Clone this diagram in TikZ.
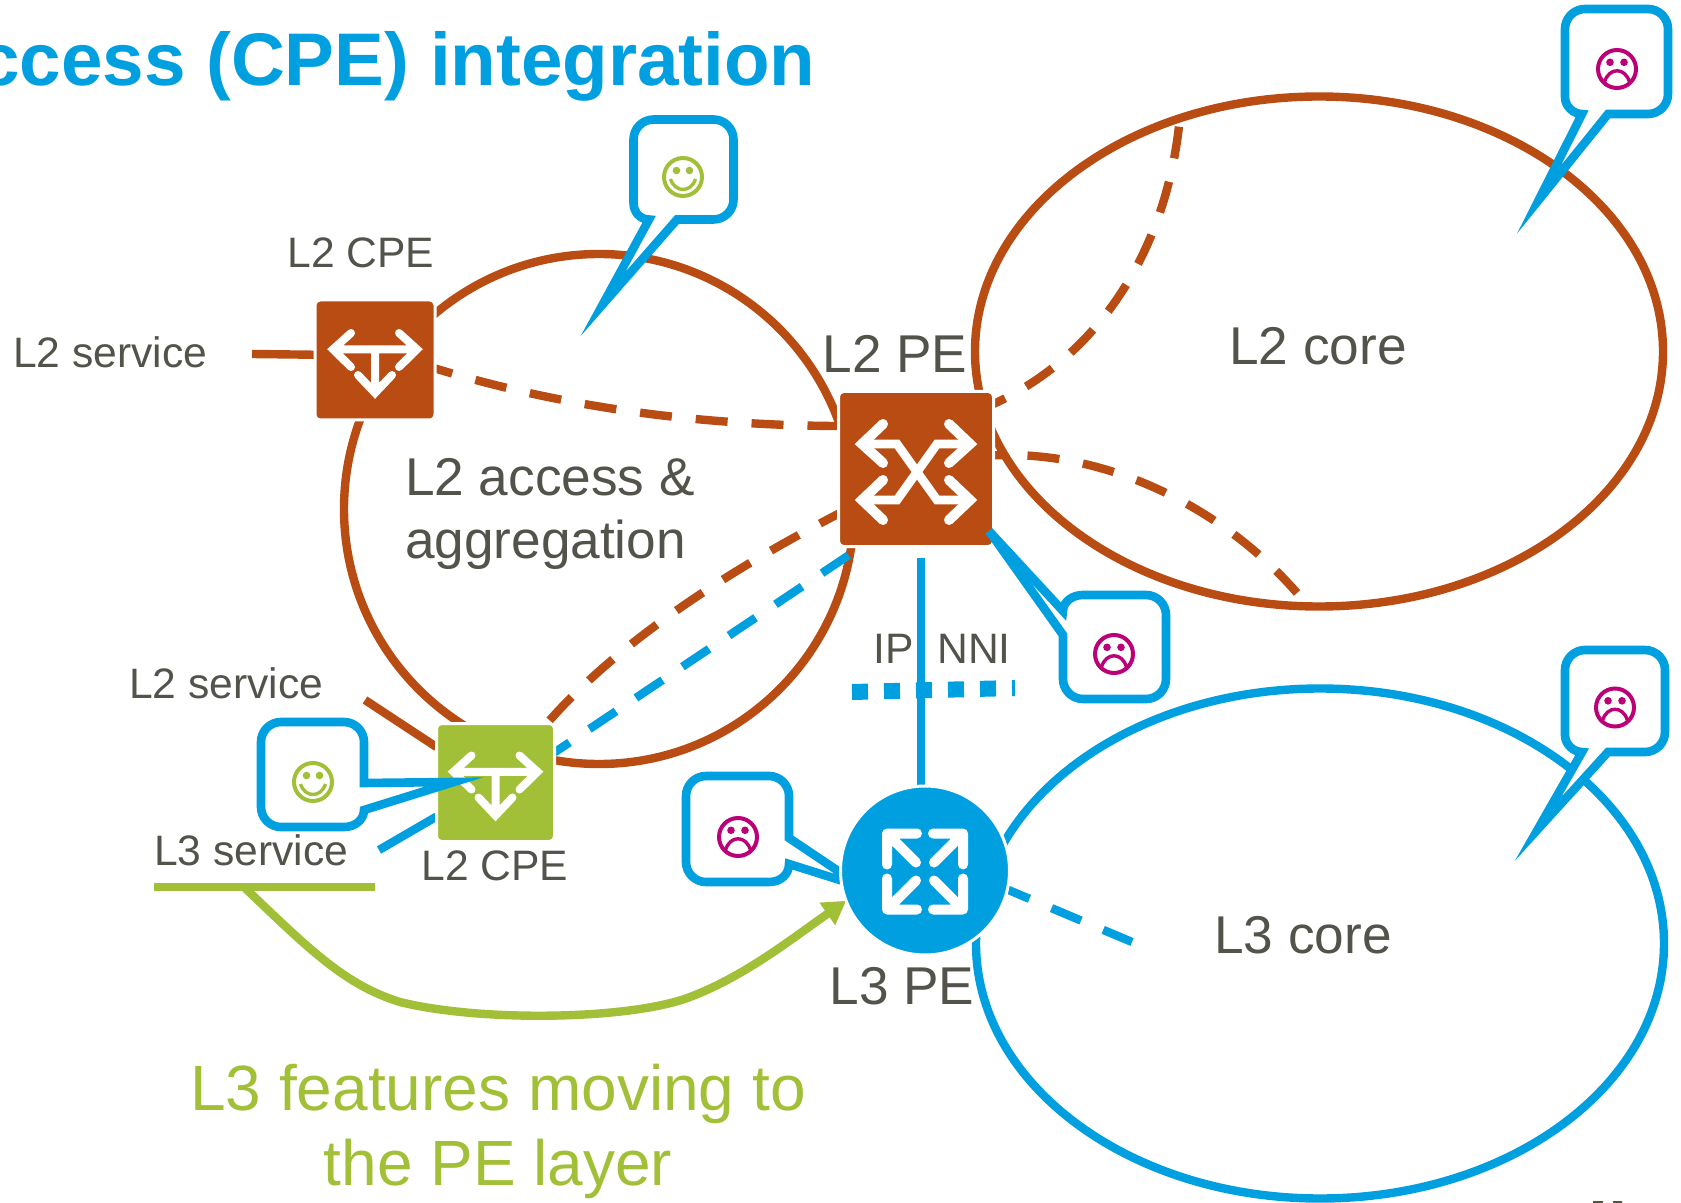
\documentclass[tikz,border=0pt]{standalone}
\usepackage{fontspec}
\setmainfont{Liberation Sans}
\usetikzlibrary{shapes.geometric,arrows.meta}
\definecolor{cblue}{HTML}{009FE0}
\definecolor{cbrown}{HTML}{B84C12}
\definecolor{cgreen}{HTML}{A2C037}
\definecolor{cgray}{HTML}{53534B}
\definecolor{cmag}{HTML}{BC0077}
\pgfdeclarelayer{bg}
\pgfsetlayers{bg,main}
\tikzset{
  lbl/.style={inner sep=0pt,outer sep=0pt,text=cgray},
  small/.style={lbl,font=\fontsize{21.3pt}{25pt}\selectfont},
  big/.style={lbl,font=\fontsize{26.6pt}{31.5pt}\selectfont},
  region/.style={ellipse,draw,line width=4.2pt,inner sep=0pt,outer sep=0pt,fill=none},
  brownreg/.style={region,draw=cbrown},
  bluereg/.style={region,draw=cblue},
  devbox/.style={rectangle,rounded corners=2.5pt,draw=white,line width=1.5pt,inner sep=0pt,outer sep=0pt},
  devround/.style={circle,draw=white,line width=1.5pt,fill=cblue,inner sep=0pt,outer sep=0pt},
  brownln/.style={draw=cbrown,line width=4.2pt},
  blueln/.style={draw=cblue,line width=4.2pt},
  greenln/.style={draw=cgreen,line width=4.2pt},
  dashln/.style={dash pattern=on 16pt off 12pt},
  callout/.style={draw=cblue,fill=white,line width=4.3pt},
  cpeicon/.pic={
    \draw[white,line width=4pt,line cap=round,miter limit=10]
      (-41,-10.7) -- (41,-10.7)
      (-24,-27) -- (-42,-10.7) -- (-24,7)
      (24,-27) -- (42,-10.7) -- (24,7)
      (0,-8) -- (0,31)
      (-17,15) -- (0,33) -- (17,15);
  },
  peicon/.pic={
    \draw[white,line width=5pt,line cap=round]
      (-33,-48) -- (-54,-28) -- (-33,-9)
      (33,-48) -- (54,-28) -- (33,-9)
      (-33,8) -- (-54,28) -- (-33,48)
      (33,8) -- (54,28) -- (33,48);
    \draw[white,line width=4.4pt]
      (-54,-28) -- (-19,-28) -- (21,28) -- (54,28)
      (-54,28) -- (-19,28) -- (21,-28) -- (54,-28);
  },
  l3icon/.pic={
    \draw[white,line width=5pt,line cap=round,line join=round]
      (-8,-38) -- (-38,-38) -- (-38,-7)
      (-38,-38) -- (-9,-9)
      (8,-38) -- (38,-38) -- (38,-7)
      (38,-38) -- (9,-9)
      (-8,38) -- (-38,38) -- (-38,7)
      (-38,38) -- (-9,9)
      (8,38) -- (38,38) -- (38,7)
      (38,38) -- (9,9);
  },
  happyface/.pic={
    \draw[cgreen,line width=2pt] (0,0) circle[radius=19];
    \fill[cgreen] (-6.5,-6.5) circle[radius=3.8] (6.5,-6.5) circle[radius=3.8];
    \draw[cgreen,line width=1.7pt] (-12.5,2) .. controls (-8,16) and (8,16) .. (12.5,2);
  },
  sadface/.pic={
    \draw[cmag,line width=2pt] (0,0) circle[radius=19];
    \fill[cmag] (-7,-6.7) circle[radius=3.8] (7,-6.7) circle[radius=3.8];
    \draw[cmag,line width=1.7pt] (-12.5,13) .. controls (-8,-2) and (8,-2) .. (12.5,13);
  }
}
\begin{document}
\begin{tikzpicture}[x=0.5pt,y=-0.5pt]
\useasboundingbox (0,0) rectangle (1681,1203);

% device nodes
\node[devbox,fill=cbrown,minimum size=60pt] (cpetop) at (375,360) {};
\node[devbox,fill=cgreen,minimum size=59pt] (cpelow) at (495.5,782.5) {};
\node[devbox,fill=cbrown,minimum size=77.5pt] (l2pe) at (916,469) {};
\node[devround,minimum size=84.5pt] (l3pe) at (925,870.5) {};
\pic at (375,360) {cpeicon};
\pic at (495.5,782.5) {cpeicon};
\pic at (916,472) {peicon};
\pic at (925,871.5) {l3icon};

% free ends
\coordinate (svcA) at (252,354);
\coordinate (svcB) at (365,700);
\coordinate (svcC) at (379,850);
\coordinate (lineL) at (154,887);
\coordinate (lineR) at (375,887);
\coordinate (arrowS) at (245,888);
\coordinate (dashB) at (1179,126);
\coordinate (dashC) at (1297,593);
\coordinate (dashL3) at (1132,942);
\coordinate (nniL) at (852,692);
\coordinate (nniR) at (1015,688);
\coordinate (nniT) at (921,558);
\coordinate (nniB) at (921,800);

\begin{pgfonlayer}{bg}
  \node[brownreg,minimum width=255pt,minimum height=255pt] (access) at (599,509) {};
  \node[brownreg,minimum width=344pt,minimum height=255pt] (l2core) at (1319,351.5) {};
  \node[bluereg,minimum width=344pt,minimum height=255pt] (l3core) at (1320,943.5) {};

  \draw[brownln] (svcA) -- (cpetop.175);
  \draw[brownln] (svcB) -- (cpelow.149);
  \draw[blueln] (svcC) -- (cpelow.210);
  \draw[greenln] (lineL) -- (lineR);
  \draw[greenln,-{Triangle[length=11.5pt,width=13pt]}] (arrowS)
     .. controls (310,950) and (345,985) .. (400,1002)
     .. controls (480,1022) and (630,1020) .. (690,997)
     .. controls (745,976) and (790,940) .. (l3pe.201.6);
  \draw[brownln,dashln,dash phase=7pt] (cpetop.-8) .. controls (530,397) and (660,425) .. (l2pe.151);
  \draw[brownln,dashln,dash phase=9.5pt] (l2pe.40) .. controls (1100,355) and (1165,250) .. (dashB);
  \draw[brownln,dashln,dash phase=11pt] (l2pe.10) .. controls (1110,450) and (1225,510) .. (dashC);
  \draw[brownln,dashln,dash phase=5.5pt] (l2pe.210) .. controls (730,570) and (620,640) .. (cpelow.49);
  \draw[blueln,dashln,dash phase=7pt] (cpelow.27) -- (l2pe.235);
  \draw[blueln,dashln,dash phase=4pt] (l3pe.-13) -- (dashL3);
  \draw[draw=cblue,line width=8pt,dash pattern=on 8pt off 8pt] (nniL) -- (nniR);
  \draw[blueln] (nniT) -- (nniB);

  % callout at L3 PE lies under the round node
  \path[callout] (789,864) .. controls (789,874) and (781,882) .. (769,882) -- (706,882)
     .. controls (695,882) and (686,873) .. (686,862) -- (686,796)
     .. controls (686,785) and (695,776) .. (706,776) -- (769,776)
     .. controls (780,776) and (789,785) .. (789,796) -- (789,838) -- (862,887) -- cycle;
\end{pgfonlayer}

% callouts
\path[callout] (677,219.5) -- (713.5,219.5) .. controls (724.5,219.5) and (733.5,210.5) .. (733.5,199.5)
   -- (733.5,139.5) .. controls (733.5,128.5) and (724.5,119.5) .. (713.5,119.5)
   -- (653.5,119.5) .. controls (642.5,119.5) and (633.5,128.5) .. (633.5,139.5)
   -- (633.5,203) .. controls (633.5,212) and (640,219.5) .. (649,219.5) -- (603,304) -- cycle;
\path[callout] (1608,114) -- (1648,114) .. controls (1659,114) and (1668,105) .. (1668,94)
   -- (1668,29) .. controls (1668,18) and (1659,9) .. (1648,9)
   -- (1585,9) .. controls (1574,9) and (1565,18) .. (1565,29)
   -- (1565,97) .. controls (1565,106) and (1573,114) .. (1582,114) -- (1539,199.5) -- cycle;
\path[callout] (1608,752) -- (1645,752) .. controls (1656,752) and (1665,743) .. (1665,732)
   -- (1665,670) .. controls (1665,659) and (1656,650) .. (1645,650)
   -- (1585,650) .. controls (1574,650) and (1565,659) .. (1565,670)
   -- (1565,735) .. controls (1565,744) and (1573,752) .. (1582,752) -- (1538,829) -- cycle;
\path[callout] (1063,635) -- (1063,679) .. controls (1063,690) and (1072,699) .. (1083,699)
   -- (1146,699) .. controls (1157,699) and (1166,690) .. (1166,679)
   -- (1166,615) .. controls (1166,604) and (1157,595) .. (1146,595)
   -- (1083,595) .. controls (1072,595) and (1063,602) .. (1063,611) -- (989,531) -- cycle;
\path[callout] (364,810) .. controls (364,819) and (356,827) .. (344,827) -- (281,827)
   .. controls (270,827) and (261,818) .. (261,807) -- (261,742)
   .. controls (261,731) and (270,722) .. (281,722) -- (344,722)
   .. controls (355,722) and (364,731) .. (364,742) -- (364,783) -- (454,782) -- cycle;

% faces
\pic at (683,177) {happyface};
\pic at (313,782) {happyface};
\pic at (1114,654) {sadface};
\pic at (738,837) {sadface};
\pic at (1617,69) {sadface};
\pic at (1615,707.5) {sadface};

% texts
\node[inner sep=0pt,anchor=base east,text=cblue,font=\fontsize{37.3pt}{40pt}\selectfont\bfseries] (title) at (816,86) {ccess (CPE) integration};
\node[small,anchor=base] (t1) at (361,268) {L2 CPE};
\node[small,anchor=base] (t2) at (495,880) {L2 CPE};
\node[small,anchor=base west] (t3) at (13,368) {L2 service};
\node[small,anchor=base west] (t4) at (129,698) {L2 service};
\node[small,anchor=base west] (t5) at (154,865) {L3 service};
\node[big,anchor=base west] (t6) at (405,495) {L2 access \&};
\node[big,anchor=base west] (t7) at (405,558) {aggregation};
\node[big,anchor=base] (t8) at (895,373) {L2 PE};
\node[big,anchor=base] (t9) at (1318,365) {L2 core};
\node[big,anchor=base] (t10) at (1303,953) {L3 core};
\node[big,anchor=base] (t11) at (902,1004) {L3 PE};
\node[small,anchor=base] (t12) at (942,663) {IP\ \ NNI};
\node[lbl,text=cgreen,anchor=base,font=\fontsize{32pt}{38pt}\selectfont] (t13) at (498,1110) {L3 features moving to};
\node[lbl,text=cgreen,anchor=base,font=\fontsize{32pt}{38pt}\selectfont] (t14) at (498,1185) {the PE layer};
\fill[cgray] (1593,1201) rectangle (1603,1203) (1613,1201) rectangle (1622,1203);
\end{tikzpicture}
\end{document}
